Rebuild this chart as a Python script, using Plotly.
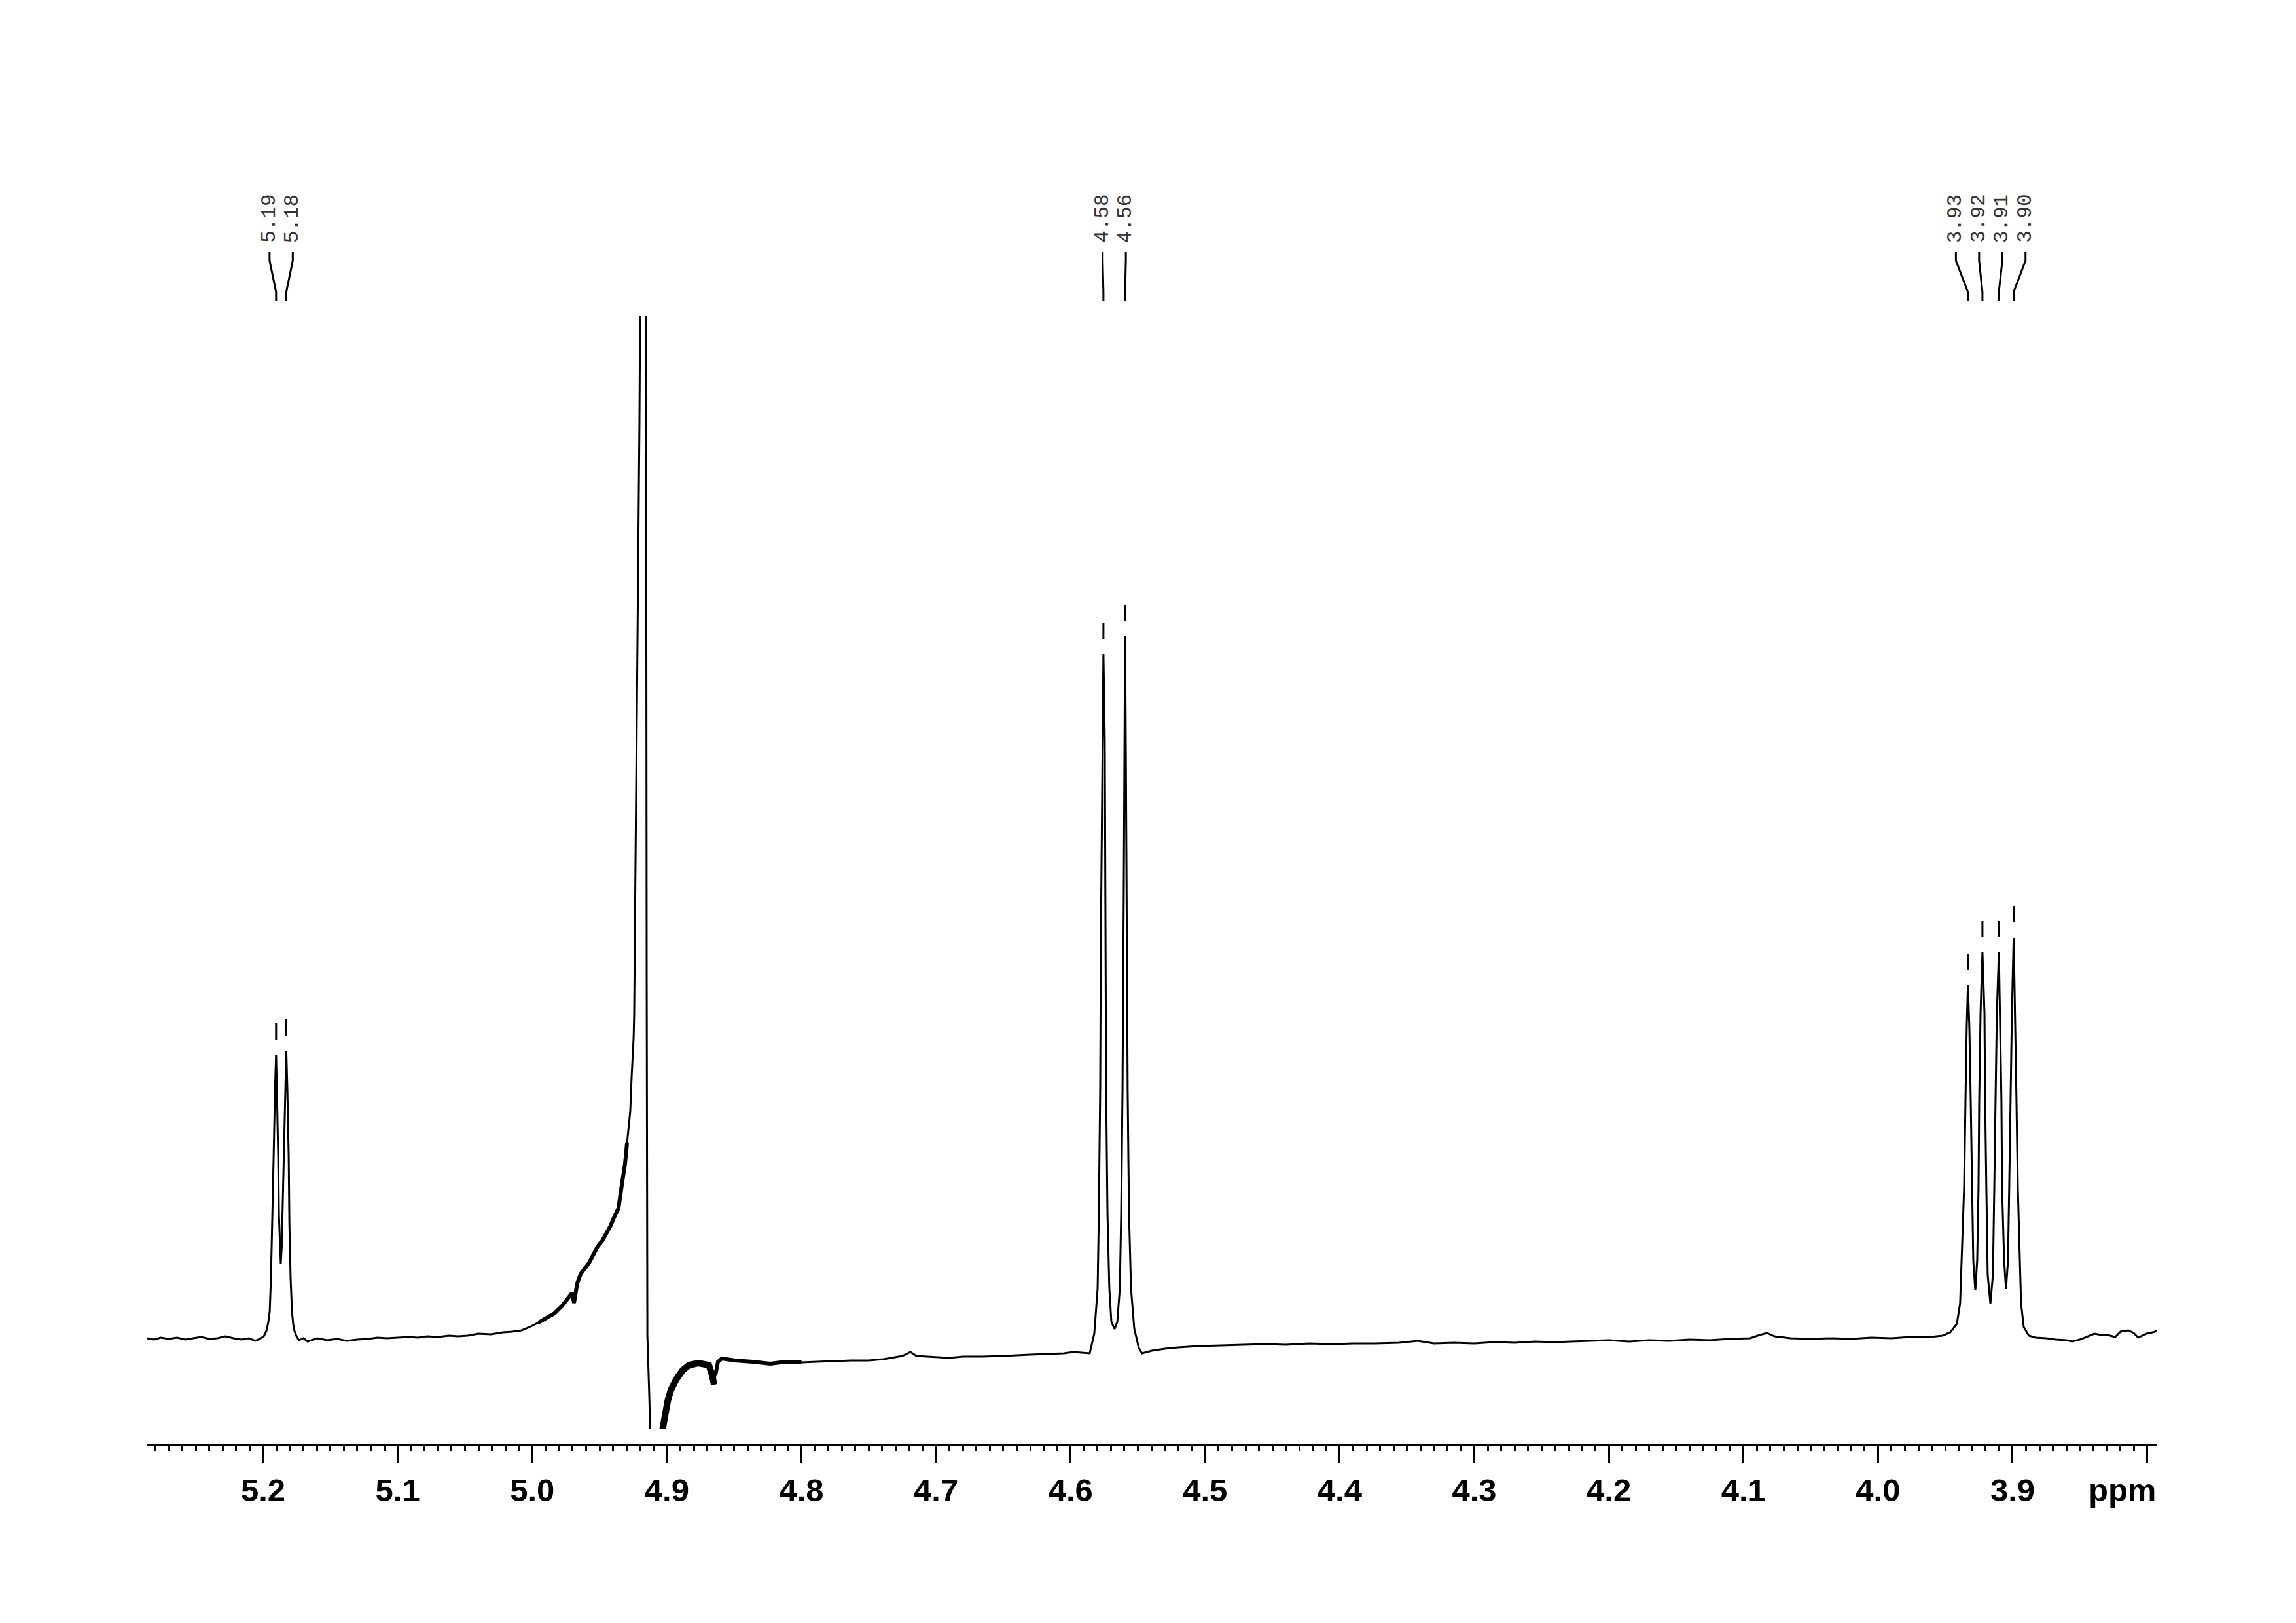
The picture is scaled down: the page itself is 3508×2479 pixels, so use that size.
import plotly.graph_objects as go

# ---------------- data ----------------
# chemical shift (ppm) and intensity (arbitrary units), region by region
ppm_left = [5.2866, 5.2810, 5.2760, 5.2700, 5.2640, 5.2580, 5.2520, 5.2460, 5.2400,
            5.2340, 5.2280, 5.2220, 5.2160, 5.2107]
int_left = [0.1, -0.1, 0.2, 0.0, 0.2, -0.1, 0.1, 0.3, 0.0,
            0.1, 0.4, 0.1, -0.1, 0.1]

ppm_d519 = [5.2058, 5.2024, 5.1995, 5.1976, 5.1962, 5.1951, 5.1942, 5.1932, 5.1922,
            5.1912, 5.1904, 5.1898, 5.1888, 5.1883, 5.1876, 5.1869, 5.1862, 5.1856,
            5.1846, 5.1835, 5.1828, 5.1820, 5.1810, 5.1805, 5.1796, 5.1786, 5.1777,
            5.1767, 5.1750, 5.1733, 5.1700, 5.1669]
int_d519 = [-0.3, 0.0, 0.4, 1.2, 2.5, 4.2, 9.3, 17.7, 27.8,
            38.0, 43.4, 38.0, 27.8, 19.0, 14.0, 11.5, 14.0, 19.0,
            27.8, 38.5, 44.0, 38.0, 27.8, 17.7, 9.3, 4.2, 2.3,
            1.2, 0.3, -0.2, 0.1, -0.4]

ppm_base2 = [5.1600, 5.1523, 5.1450, 5.1380, 5.1300, 5.1220, 5.1150, 5.1080, 5.1000,
             5.0920, 5.0850, 5.0780, 5.0700, 5.0620, 5.0551]
int_base2 = [0.1, -0.2, 0.0, -0.3, -0.1, 0.0, 0.2, 0.1, 0.2,
             0.3, 0.2, 0.4, 0.3, 0.5, 0.4]

ppm_water = [5.0480, 5.0400, 5.0308, 5.0220, 5.0150, 5.0080, 5.0020, 4.9953, 4.9890,
             4.9836, 4.9780, 4.9739, 4.9705, 4.9690, 4.9666, 4.9641, 4.9610, 4.9578,
             4.9545, 4.9515, 4.9480, 4.9447, 4.9420, 4.9398, 4.9375, 4.9359, 4.9335,
             4.9311, 4.9296, 4.9272, 4.9262, 4.9247, 4.9243, 4.9228, 4.9213, 4.9204,
             4.9199, 4.9190, 4.9177, 4.9163, 4.9155, 4.9150, 4.9145, 4.9131, 4.9126,
             4.9110, 4.9070, 4.9045, 4.9035, 4.9019, 4.8994, 4.8970, 4.8931, 4.8883,
             4.8834, 4.8766, 4.8688, 4.8664, 4.8649, 4.8639, 4.8620, 4.8591, 4.8494,
             4.8362, 4.8231, 4.8119]
int_water = [0.5, 0.8, 0.7, 1.0, 1.1, 1.3, 1.8, 2.5, 3.3,
             3.9, 5.0, 6.0, 7.0, 5.5, 8.5, 9.9, 10.8, 11.6,
             12.9, 14.1, 15.0, 16.2, 17.2, 18.3, 19.3, 20.0, 23.5,
             26.7, 29.9, 34.8, 40.0, 46.0, 49.5, 84.5, 114.5, 139.5,
             156.3, 220.0, 300.0, 220.0, 156.3, 55.0, 0.5, -8.5, -13.8,
             -25.0, -30.0, -20.0, -14.2, -11.8, -9.5, -7.8, -6.2, -4.8,
             -4.0, -3.7, -4.0, -5.5, -7.0, -5.5, -3.5, -3.0, -3.3,
             -3.5, -3.8, -3.5]

ppm_base3 = [4.8000, 4.7876, 4.7750, 4.7633, 4.7500, 4.7390, 4.7250, 4.7190, 4.7146,
             4.7000, 4.6903, 4.6800, 4.6660, 4.6500, 4.6417, 4.6300, 4.6174, 4.6050,
             4.5979, 4.5900]
int_base3 = [-3.6, -3.5, -3.4, -3.3, -3.3, -3.1, -2.6, -2.0, -2.6,
             -2.8, -2.9, -2.7, -2.7, -2.6, -2.5, -2.4, -2.3, -2.2,
             -2.0, -2.1]

ppm_d457 = [4.5858, 4.5824, 4.5799, 4.5790, 4.5780, 4.5775, 4.5765, 4.5760, 4.5756,
            4.5746, 4.5741, 4.5736, 4.5726, 4.5712, 4.5697, 4.5673, 4.5653, 4.5634,
            4.5624, 4.5614, 4.5605, 4.5600, 4.5595, 4.5590, 4.5580, 4.5576, 4.5566,
            4.5551, 4.5527, 4.5493, 4.5469]
int_d457 = [-2.2, 0.8, 7.7, 19.2, 38.2, 61.1, 84.0, 99.2, 104.6,
            91.6, 61.1, 38.2, 19.2, 7.7, 2.6, 1.5, 2.6, 7.7,
            19.2, 38.2, 68.0, 91.6, 107.3, 91.6, 61.1, 38.2, 19.2,
            7.7, 1.6, -1.4, -2.2]

ppm_base4 = [4.5396, 4.5300, 4.5201, 4.5050, 4.4900, 4.4715, 4.4550, 4.4400, 4.4228,
             4.4050, 4.3900, 4.3742, 4.3560, 4.3420, 4.3300, 4.3150, 4.3000, 4.2850,
             4.2700, 4.2550, 4.2400, 4.2283, 4.2150, 4.2000, 4.1850, 4.1700, 4.1550,
             4.1400, 4.1250, 4.1100, 4.0950, 4.0880, 4.0824, 4.0770, 4.0650, 4.0500,
             4.0338, 4.0200, 4.0050, 3.9900, 3.9760, 3.9609]
int_base4 = [-1.8, -1.5, -1.3, -1.1, -1.0, -0.9, -0.8, -0.9, -0.7,
             -0.8, -0.7, -0.7, -0.6, -0.3, -0.7, -0.6, -0.7, -0.5,
             -0.6, -0.4, -0.5, -0.4, -0.3, -0.2, -0.4, -0.2, -0.3,
             -0.1, -0.2, 0.0, 0.1, 0.6, 0.9, 0.4, 0.1, 0.0,
             0.1, 0.0, 0.2, 0.1, 0.3, 0.3]

ppm_q391 = [3.9520, 3.9463, 3.9414, 3.9390, 3.9375, 3.9360, 3.9350, 3.9341, 3.9332,
            3.9321, 3.9311, 3.9302, 3.9292, 3.9277, 3.9263, 3.9253, 3.9248, 3.9238,
            3.9224, 3.9209, 3.9204, 3.9195, 3.9185, 3.9165, 3.9146, 3.9136, 3.9127,
            3.9117, 3.9102, 3.9093, 3.9083, 3.9078, 3.9063, 3.9049, 3.9034, 3.9025,
            3.9015, 3.9005, 3.8992, 3.8981, 3.8971, 3.8961, 3.8947, 3.8937, 3.8917,
            3.8893, 3.8879]
int_q391 = [0.5, 1.0, 2.3, 5.4, 14.3, 23.1, 36.4, 47.5, 54.0,
            47.5, 36.4, 23.1, 12.0, 7.4, 12.0, 23.1, 36.4, 49.8,
            59.1, 49.8, 36.4, 23.1, 9.8, 5.4, 9.8, 23.1, 36.4,
            49.8, 59.1, 49.8, 36.4, 23.1, 12.0, 7.6, 12.0, 23.1,
            36.4, 49.8, 61.3, 49.8, 36.4, 23.1, 12.0, 5.4, 1.8,
            1.0, 0.5]

ppm_right = [3.8830, 3.8750, 3.8680, 3.8600, 3.8558, 3.8500, 3.8450, 3.8392, 3.8340,
             3.8295, 3.8237, 3.8198, 3.8140, 3.8100, 3.8067, 3.8030, 3.8004, 3.7960,
             3.7925]
int_right = [0.2, 0.1, -0.1, -0.2, -0.4, -0.1, 0.3, 0.8, 0.6,
             0.6, 0.3, 1.1, 1.3, 0.9, 0.2, 0.6, 0.8, 1.0,
             1.2]

# picked peaks
peak_ppm = [5.1904, 5.1828, 4.5756, 4.5595, 3.9332, 3.9224, 3.9102, 3.8992]
peak_labels = ["5.19", "5.18", "4.58", "4.56", "3.93", "3.92", "3.91", "3.90"]

# axis ticks
tick_vals = [5.2, 5.1, 5.0, 4.9, 4.8, 4.7, 4.6, 4.5, 4.4, 4.3, 4.2, 4.1, 4.0, 3.9, 3.8]
tick_text = ["5.2", "5.1", "5.0", "4.9", "4.8", "4.7", "4.6", "4.5", "4.4", "4.3",
             "4.2", "4.1", "4.0", "3.9", ""]

# ---------------- assemble ----------------
ppm = (ppm_left + ppm_d519 + ppm_base2 + ppm_water + ppm_base3 + ppm_d457 +
       ppm_base4 + ppm_q391 + ppm_right)
intensity = (int_left + int_d519 + int_base2 + int_water + int_base3 + int_d457 +
             int_base4 + int_q391 + int_right)

X_RANGE = [5.2866, 3.7925]
Y_RANGE = [-13.8, 156.3]

# the page body adds an 8 px margin around the figure
BODY = 8
PAGE_W, PAGE_H = 3508, 2479
W, H = PAGE_W - 2 * BODY, PAGE_H - 2 * BODY
AXIS_Y = 2207                      # page row of the x axis line
M_L = 224 - BODY
M_R = W - (3296 - BODY)
M_T = 482 - BODY
M_B = H - (AXIS_Y - BODY)
PLOT_H = H - M_T - M_B
Y_DOM0 = 24 / PLOT_H


def py(page_row):
    # paper y for a page pixel row
    return (AXIS_Y - page_row) / PLOT_H


fig = go.Figure()

fig.add_trace(go.Scatter(x=ppm, y=intensity, mode="lines",
                         line=dict(color="black", width=3), hoverinfo="skip",
                         showlegend=False))

# noisy regions drawn as a thicker band
noisy_bands = [(4.9960, 4.9296, 6), (4.9040, 4.8640, 10), (4.8640, 4.8000, 6)]
for hi, lo, wdt in noisy_bands:
    xs = [p for p in ppm if lo <= p <= hi]
    ys = [v for p, v in zip(ppm, intensity) if lo <= p <= hi]
    fig.add_trace(go.Scatter(x=xs, y=ys, mode="lines",
                             line=dict(color="black", width=wdt), hoverinfo="skip",
                             showlegend=False))

# peak label layout
MIN_GAP = 0.01725
order = sorted(range(len(peak_ppm)), key=lambda i: -peak_ppm[i])
groups = []
for i in order:
    if groups and peak_ppm[groups[-1][-1]] - peak_ppm[i] < MIN_GAP:
        groups[-1].append(i)
    else:
        groups.append([i])
label_x = {}
for g in groups:
    n = len(g)
    c = sum(peak_ppm[i] for i in g) / n
    for k, i in enumerate(g):
        label_x[i] = c + ((n - 1) / 2 - k) * MIN_GAP

shapes = []
annotations = []
for i, p in enumerate(peak_ppm):
    lx = label_x[i]
    path = (f"M {lx},{py(385)} L {lx},{py(398)} L {p},{py(446)} L {p},{py(460)}")
    shapes.append(dict(type="path", path=path, xref="x", yref="paper",
                       line=dict(color="black", width=3)))
    annotations.append(dict(x=lx, y=py(373), xref="x", yref="paper",
                            text=peak_labels[i], textangle=-90, showarrow=False,
                            xanchor="center", yanchor="bottom",
                            font=dict(family="Liberation Mono", size=31, color="#333333")))
    # small marker above the peak top
    j = min(range(len(ppm)), key=lambda k: abs(ppm[k] - p))
    h = intensity[j]
    shapes.append(dict(type="line", x0=p, x1=p, y0=h + 2.3, y1=h + 4.8,
                       xref="x", yref="y", line=dict(color="black", width=3)))

annotations.append(dict(x=1, y=py(2276), xref="paper", yref="paper", text="ppm",
                        showarrow=False, xanchor="right", yanchor="middle",
                        font=dict(family="Liberation Sans", size=49, color="black",
                                  weight="bold")))

fig.update_layout(
    width=W, height=H,
    margin=dict(l=M_L, r=M_R, t=M_T, b=M_B, pad=0),
    paper_bgcolor="white", plot_bgcolor="white",
    shapes=shapes, annotations=annotations,
    xaxis=dict(range=X_RANGE, anchor="free", position=0,
               showgrid=False, zeroline=False,
               showline=True, linecolor="black", linewidth=4,
               ticks="outside", ticklen=25, tickwidth=3, tickcolor="black",
               tickmode="array", tickvals=tick_vals, ticktext=tick_text,
               tickfont=dict(family="Liberation Sans", size=49, color="black",
                             weight="bold"),
               minor=dict(tickmode="linear", tick0=0, dtick=0.01, ticks="outside",
                          ticklen=8, tickwidth=3, tickcolor="black", showgrid=False)),
    yaxis=dict(range=Y_RANGE, domain=[Y_DOM0, 1], visible=False,
               showgrid=False, zeroline=False),
)

fig.write_html("out.html")
